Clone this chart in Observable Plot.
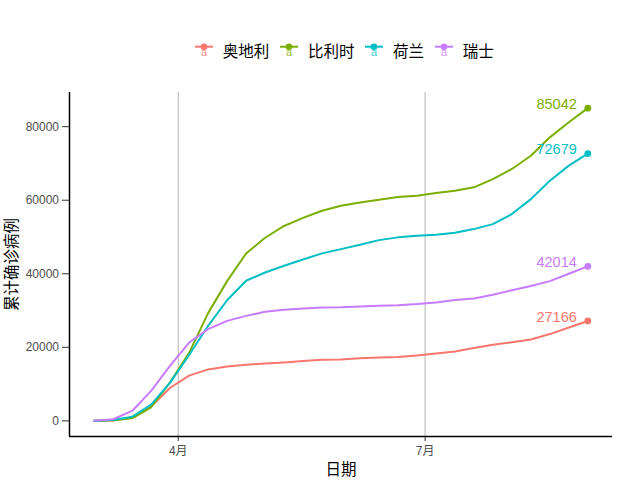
<!DOCTYPE html>
<html>
<head>
<meta charset="utf-8">
<script src="https://cdn.jsdelivr.net/npm/d3@7"></script>
<script src="https://cdn.jsdelivr.net/npm/@observablehq/plot@0.6"></script>
<style>
  body { margin: 0; background: #ffffff; }
  #wrap { position: relative; width: 640px; height: 480px; background: #ffffff;
          font-family: "Liberation Sans", "Noto Sans CJK SC", sans-serif; }
  #legend { position: absolute; top: 40px; left: 195px; height: 21px; display: flex; align-items: center;
            font-family: "Noto Sans CJK SC", sans-serif; font-size: 15.5px; line-height: 21px; color: #000; }
  .item { display: flex; align-items: center; margin-right: 11px; }
  .item svg { margin-right: 9.7px; display: block; }
  #chart { position: absolute; top: 80px; left: 0; }
</style>
</head>
<body>
<div id="wrap">
  <div id="legend"></div>
  <div id="chart"></div>
</div>
<script>
// ---- data ----
const dates = [
  "2020-03-01","2020-03-08","2020-03-15","2020-03-22","2020-03-29",
  "2020-04-05","2020-04-12","2020-04-19","2020-04-26",
  "2020-05-03","2020-05-10","2020-05-17","2020-05-24","2020-05-31",
  "2020-06-07","2020-06-14","2020-06-21","2020-06-28",
  "2020-07-05","2020-07-12","2020-07-19","2020-07-26",
  "2020-08-02","2020-08-09","2020-08-16","2020-08-23","2020-08-30"
];
const countries = ["奥地利", "比利时", "荷兰", "瑞士"];
const colors = ["#F8766D", "#7CAE00", "#00BFC4", "#C77CFF"];
const austria = [10, 100, 900, 3900, 9000, 12300, 14000, 14800, 15250, 15600, 15900, 16250, 16600, 16700,
                 17000, 17250, 17400, 17800, 18300, 18850, 19800, 20700, 21400, 22150, 23600, 25400, 27166];
const belgium = [2, 200, 700, 3700, 10500, 18500, 29300, 38000, 45500, 49800, 53000, 55200, 57150, 58500,
                 59400, 60150, 60850, 61200, 61950, 62600, 63500, 65750, 68500, 72100, 77100, 81200, 85042];
const netherlands = [10, 250, 1100, 4400, 10400, 17900, 25850, 32800, 38100, 40350, 42200, 43900, 45550, 46700,
                 47900, 49150, 49900, 50350, 50600, 51150, 52150, 53500, 56250, 60300, 65300, 69400, 72679];
const switzerland = [30, 450, 2700, 8150, 15000, 21300, 24950, 27200, 28550, 29650, 30200, 30550, 30850, 30900,
                 31100, 31300, 31450, 31750, 32200, 32850, 33300, 34300, 35500, 36700, 38000, 40000, 42014];
const yTicks = [0, 20000, 40000, 60000, 80000];
const xTickDates = ["2020-04-01", "2020-07-01"];
const xTickLabels = ["4月", "7月"];
const xTitle = "日期";
const yTitle = "累计确诊病例";

// ---- build table ----
const seriesValues = [austria, belgium, netherlands, switzerland];
const parsedDates = dates.map(d => new Date(d + "T00:00:00Z"));
const rows = [];
countries.forEach((c, i) => {
  seriesValues[i].forEach((v, j) => rows.push({country: c, date: parsedDates[j], value: v}));
});
const last = rows.filter(r => +r.date === +parsedDates[parsedDates.length - 1]);
const xTicks = xTickDates.map(d => new Date(d + "T00:00:00Z"));
const tickLabel = new Map(xTicks.map((d, i) => [+d, xTickLabels[i]]));

// ggplot-like 5% expansion
const [d0, d1] = d3.extent(parsedDates);
const xPad = (d1 - d0) * 0.05;
const xDomain = [new Date(+d0 - xPad), new Date(+d1 + xPad)];
const yMin = d3.min(rows, r => r.value), yMax = d3.max(rows, r => r.value);
const yPad = (yMax - yMin) * 0.05;
const yDomain = [yMin - yPad, yMax + yPad];

// ---- legend ----
const legend = document.getElementById("legend");
countries.forEach((c, i) => {
  const item = document.createElement("div");
  item.className = "item";
  item.innerHTML =
    `<svg width="18" height="21" viewBox="0 0 18 21">` +
    `<line x1="0" x2="18" y1="6.7" y2="6.7" stroke="${colors[i]}" stroke-width="2"/>` +
    `<circle cx="9" cy="6.7" r="3.3" fill="${colors[i]}"/>` +
    `<text x="9" y="16.3" text-anchor="middle" font-size="11" font-family="Liberation Sans" fill="${colors[i]}" fill-opacity="0.85">a</text>` +
    `</svg><span>${c}</span>`;
  legend.appendChild(item);
});

// ---- chart ----
const chart = Plot.plot({
  width: 640,
  height: 400,
  marginTop: 12,
  marginBottom: 44,
  marginLeft: 69,
  marginRight: 28,
  style: {fontFamily: "'Liberation Sans', 'Noto Sans CJK SC', sans-serif", background: "#ffffff"},
  x: {type: "utc", domain: xDomain},
  y: {domain: yDomain},
  color: {domain: countries, range: colors},
  marks: [
    Plot.ruleX(xTicks, {stroke: "#b3b3b3", strokeWidth: 1}),
    Plot.line(rows, {x: "date", y: "value", z: "country", stroke: "country", strokeWidth: 2, curve: "linear"}),
    Plot.dot(last, {x: "date", y: "value", fill: "country", r: 3.4}),
    Plot.text(last, {x: "date", y: "value", text: d => String(d.value), fill: "country",
      textAnchor: "end", dx: -11, dy: -4, fontSize: 14.5}),
    Plot.axisY({ticks: yTicks, tickFormat: d => String(d), tickSize: 7, tickPadding: 3.5,
      fontSize: 12, color: "#4d4d4d", stroke: "#333333", label: null}),
    Plot.axisX({ticks: xTicks, tickFormat: d => tickLabel.get(+d), tickSize: 5, tickPadding: 5,
      fontSize: 12, color: "#4d4d4d", stroke: "#333333", label: null}),
    Plot.ruleX([xDomain[0]], {stroke: "#000", strokeWidth: 1.5}),
    Plot.ruleY([yDomain[0]], {stroke: "#000", strokeWidth: 1.5}),
    Plot.text([yTitle], {frameAnchor: "left", textAnchor: "middle", lineAnchor: "middle",
      rotate: -90, dx: -57, fontSize: 15.5, fill: "#000"}),
    Plot.text([xTitle], {frameAnchor: "bottom", textAnchor: "middle", lineAnchor: "middle",
      dy: 34, fontSize: 15.5, fill: "#000"})
  ]
});
document.getElementById("chart").appendChild(chart);
</script>
</body>
</html>
